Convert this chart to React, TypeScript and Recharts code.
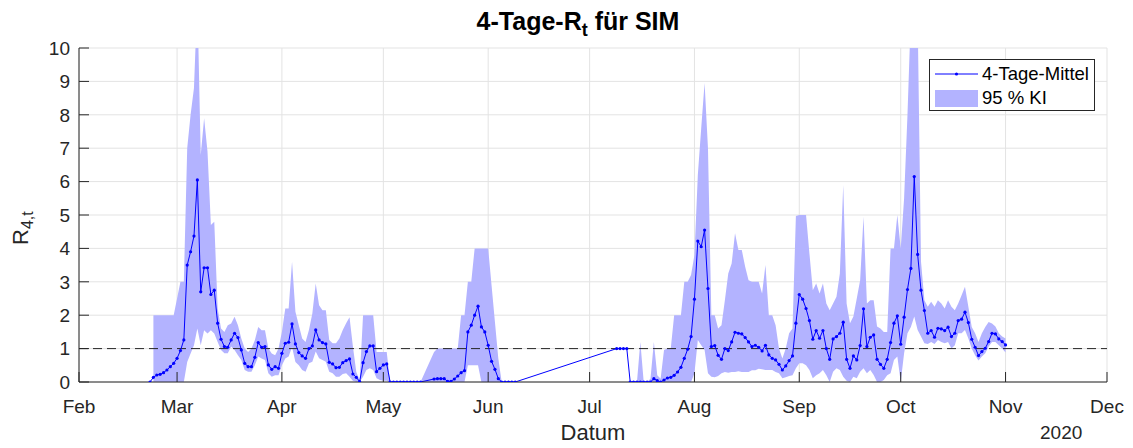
import React from 'react';
import {
  ComposedChart, Area, Line, XAxis, YAxis, CartesianGrid, ReferenceLine,
} from 'recharts';

// day offsets are counted from 1 Feb 2020
const startDay = 21; // 22 Feb

const monthTicks = [0, 29, 60, 90, 121, 151, 182, 213, 243, 274, 304];
const monthLabels = ['Feb', 'Mar', 'Apr', 'May', 'Jun', 'Jul', 'Aug', 'Sep', 'Oct', 'Nov', 'Dec'];
const yTicks = [0, 1, 2, 3, 4, 5, 6, 7, 8, 9, 10];

const N = null;

// 4-Tage-Mittel
const rMean = [
  0, .14, .21, .23, .28, .36, .46, .56, .71, .94, 1.26, 3.5, 3.9, 4.37, 6.05, 2.7, 3.42, 3.42, 2.62, 2.75,
  1.76, 1.28, 1.06, 1.04, 1.26, 1.46, 1.33, .96, .56, .46, .46, .74, 1.18, 1.04, 1.06, .51, .38, .46, .41, .86,
  1.16, 1.19, 1.74, 1.14, .88,
  .78, .71, 1.0, 1.08, 1.56, 1.26, 1.18, 1.14, .59, .54, .43, .44, .58, .64, .69, .24, .14, .01, .58, .91,
  1.08, 1.08, .31, .41, .51, .54,
  0, 0, 0, 0, 0, 0, 0, 0, 0, 0,
  N, N, N,
  .09, .1, .1, .1, .02, .02, .09, .18, .28, .34, 1.5, 1.7, 2.0, 2.27, 1.65, 1.5, 1.1, .62, .38, .1,
  0, 0, 0, 0, 0,
  N, N, N, N, N, N, N, N, N, N, N, N, N, N, N, N, N, N, N, N, N, N, N, N, N, N, N, N, N,
  1, 1, 1, 1,
  0, 0, 0, 0, 0, 0, 0, .1, .04, 0, .06, .12, .14, .2, .3, .44, .71, .98, 1.36, 2.48,
  4.22, 4.05, 4.55, 2.8, 1.06, 1.09, .8, .68, 1.0, .94, 1.2, 1.49, 1.46, 1.44, 1.33, 1.2,
  1.06, 1.1, 1.04, .93, 1.1, .81, .71, .66, .53, .36, .48, .64, .78, 1.76, 2.62, 2.48, 2.2, 1.84, 1.28, 1.54,
  1.31, 1.54, 1.0, .68, 1.29, 1.36, 1.46, 1.79, .68, .41, .78, .66, 1.09, 2.19, 1.06, 1.34, 1.41, .68, .53, .41,
  .68, 1.18, 1.76,
  1.98, 1.13, 1.94, 2.77, 3.4, 6.15, 3.82, 2.75, 2.14, 1.46, 1.54, 1.34, 1.61, 1.59, 1.54, 1.64, 1.36, 1.46, 1.84, 1.88,
  2.09, 1.78, 1.28, 1.04, .79, .91, 1.01, 1.21, 1.46, 1.44, 1.29, 1.21, 1.11,
];

// 95 % KI, lower bound
const kiLow = [
  N, 0, 0, 0, 0, 0, 0, 0, 0, 0, 0, .6, .85, 1.1, 1.6, 1.1, 1.55, 1.45, 1.55, 1.45,
  1.2, .96, .86, .86, 1.06, .96, .8, .66, .36, .31, .31, .5, .76, .7, .66, .26, .16, .2, .2, .5,
  .7, .76, 1.05, .6, .5,
  .36, .31, .56, .61, .91, .71, .66, .61, .31, .26, .16, .16, .24, .26, .16, .04, 0, 0, .16, .36,
  .41, .36, .11, .06, .04, .04,
  0, 0, 0, 0, 0, 0, 0, 0, 0, 0,
  N, N, N,
  0, 0, 0, 0, 0, 0, 0, 0, 0, 0, .5, .5, .5, .5, 0, 0, 0, 0, 0, 0,
  0, 0, 0, 0, 0,
  N, N, N, N, N, N, N, N, N, N, N, N, N, N, N, N, N, N, N, N, N, N, N, N, N, N, N, N, N,
  1, 1, 1, 1,
  0, 0, 0, 0, 0, 0, 0, 0, 0, 0, 0, 0, 0, 0, 0, 0, 0, 0, 0, .26,
  1.26, 1.1, .96, .26, .16, .14, .18, .26, .3, .28, .3, .3, .32, .3, .3, .3,
  .35, .35, .4, .38, .36, .36, .36, .3, .26, .11, .14, .18, .2, .41, .56, .56, .5, .36, .11, .2,
  .26, .36, .2, 0, .31, .41, .36, .16, .04, 0, .16, .11, .31, .41, .26, .36, .21, 0, 0, .06,
  .2, .26, .66,
  .76, 0, .86, 1.46, 1.65, 1.96, 1.56, 1.36, 1.16, 1.14, 1.2, 1.14, 1.26, 1.2, 1.16, 1.2, 1.0, 1.1, 1.46, 1.46,
  1.56, 1.3, 1.0, .8, .64, .76, .86, 1.06, 1.2, 1.2, 1.1, 1.0, .88,
];

// 95 % KI, upper bound
const kiHigh = [
  N, 2, 2, 2, 2, 2, 2, 2, 2.5, 3, 3, 7.0, 8.0, 8.8, 11.5, 6.8, 7.9, 6.9, 4.7, 4.8,
  2.2, 1.6, 1.5, 1.7, 1.75, 1.95, 1.7, 1.3, 1.0, .9, 1.0, 1.25, 1.65, 1.55, 1.55, 1.0, .85, .8, 1.0, 1.5,
  2.2, 2.2, 3.6, 2.1, 1.7,
  1.3, 1.2, 1.56, 2.05, 2.95, 2.3, 2.15, 2.15, 1.26, 1.16, 1.16, 1.3, 1.56, 1.76, 1.94, 1.06, .3, .05, 2.0, 2.0,
  2.0, 2.0, .9, .9, .9, .9,
  0, 0, 0, 0, 0, 0, 0, 0, 0, 0,
  N, N, N,
  .9, 1, 1, 1, 1, 1, 1, 1, 2, 2, 3, 3, 4, 4, 4, 4, 4, 2.9, 1.8, .7,
  0, 0, 0, 0, 0,
  N, N, N, N, N, N, N, N, N, N, N, N, N, N, N, N, N, N, N, N, N, N, N, N, N, N, N, N, N,
  1, 1, 1, 1,
  0, 0, 0, 1.2, 0, 0, .1, 1.2, .2, .1, .96, 1, 1, 2, 2, 2, 3, 3, 3.2, 3.8,
  6.2, 7.6, 8.95, 7.0, 2.0, 2.0, 1.6, 1.7, 2.45, 3.25, 3.55, 4.45, 3.95, 3.95, 3.45, 3.05,
  3.0, 3.0, 3.0, 2.65, 3.5, 2.0, 2.0, 1.7, 1.0, .7, 1.0, 1.46, 1.6, 4.97, 5, 5, 5, 3.85, 2.75, 2.95,
  2.65, 2.95, 2.35, 2.15, 2.35, 2.55, 3.25, 5.9, 2.35, 1.76, 1.96, 2.5, 3.05, 4.95, 2.35, 2.45, 2.45, 1.66, 1.6, 1.5,
  1.5, 4.0, 4.0,
  5.0, 4.0, 5.5, 8.0, 11, 13, 11, 3.6, 2.45, 2.25, 2.4, 2.25, 2.45, 2.35, 2.2, 2.45, 2.25, 2.15, 2.35, 2.6,
  2.85, 2.25, 1.65, 1.46, 1.2, 1.46, 1.65, 1.8, 1.75, 1.66, 1.46, 1.36, 1.3,
];

const data = rMean.map((r, i) => ({
  day: startDay + i,
  r,
  ki: kiLow[i] == null || kiHigh[i] == null ? null : [kiLow[i], kiHigh[i]],
}));

const FONT = "'Liberation Sans', Arial, sans-serif";
const INK = '#262626';
const BLUE = '#0000ff';
const BAND = '#b3b3ff';

const monthName = (v: number) => monthLabels[monthTicks.indexOf(v)] ?? '';

const LegendBox = () => (
  <div style={{
    position: 'absolute', left: 921, top: 51,
    width: 164, height: 50, border: `1px solid ${INK}`, background: '#fff',
    fontFamily: FONT, fontSize: 18.5, color: '#000',
  }}>
    <svg width={48} height={50} style={{ position: 'absolute', left: 4, top: 0 }}>
      <line x1={1} x2={44} y1={14} y2={14} stroke={BLUE} strokeWidth={1} />
      <circle cx={22.5} cy={14} r={1.6} fill={BLUE} />
      <rect x={1} y={30} width={43} height={17} fill={BAND} />
    </svg>
    <div style={{ position: 'absolute', left: 52, top: 3, lineHeight: '22px' }}>4-Tage-Mittel</div>
    <div style={{ position: 'absolute', left: 52, top: 27, lineHeight: '22px' }}>95 % KI</div>
  </div>
);

export default function App() {
  return (
    <div style={{ position: 'relative', width: 1125, height: 440, fontFamily: FONT, background: '#fff' }}>
      <ComposedChart
        width={1125}
        height={440}
        data={data}
        margin={{ top: 40, right: 26, bottom: 36, left: 0 }}
      >
        <CartesianGrid stroke="#e3e3e3" />
        <XAxis
          dataKey="day"
          type="number"
          domain={[0, 304]}
          ticks={monthTicks}
          tickFormatter={monthName}
          interval={0}
          height={30}
          tickSize={-10}
          tickMargin={28}
          stroke={INK}
          tick={{ fill: INK, fontSize: 19, fontFamily: FONT }}
        />
        <XAxis
          xAxisId="top"
          orientation="top"
          type="number"
          domain={[0, 304]}
          ticks={monthTicks}
          height={0}
          tickSize={-10}
          tick={false}
          stroke={INK}
        />
        <YAxis
          domain={[0, 10]}
          ticks={yTicks}
          allowDataOverflow
          interval={0}
          width={71}
          tickSize={-10}
          tickMargin={19}
          stroke={INK}
          tick={{ fill: INK, fontSize: 19, fontFamily: FONT }}
        />
        <YAxis
          yAxisId="right"
          orientation="right"
          domain={[0, 10]}
          ticks={yTicks}
          width={0}
          tickSize={-10}
          tick={false}
          stroke={INK}
        />
        <Area
          dataKey="ki"
          name="95 % KI"
          fill={BAND}
          fillOpacity={1}
          stroke="none"
          connectNulls
          isAnimationActive={false}
        />
        <ReferenceLine y={1} stroke={INK} strokeDasharray="9 5" strokeWidth={1} />
        <Line
          dataKey="r"
          name="4-Tage-Mittel"
          stroke={BLUE}
          strokeWidth={1}
          dot={{ r: 1.6, fill: BLUE, stroke: 'none' }}
          connectNulls
          isAnimationActive={false}
        />
      </ComposedChart>

      <LegendBox />

      <div style={{
        position: 'absolute', left: 0, width: 1140, top: -1, textAlign: 'center',
        fontWeight: 'bold', fontSize: 25, color: '#000',
      }}>
        4-Tage-R<sub style={{ fontSize: 18 }}>t</sub> für SIM
      </div>
      <div style={{
        position: 'absolute', left: 0, top: 207, width: 30, textAlign: 'center',
        transform: 'rotate(-90deg)', transformOrigin: '15px 15px', fontSize: 22, color: INK, whiteSpace: 'nowrap',
      }}>
        R<sub style={{ fontSize: 16 }}>4,t</sub>
      </div>
      <div style={{ position: 'absolute', left: 71, width: 1028, top: 412, textAlign: 'center', fontSize: 22, color: INK }}>
        Datum
      </div>
      <div style={{ position: 'absolute', left: 1032, top: 414, fontSize: 19, color: INK }}>
        2020
      </div>
    </div>
  );
}
